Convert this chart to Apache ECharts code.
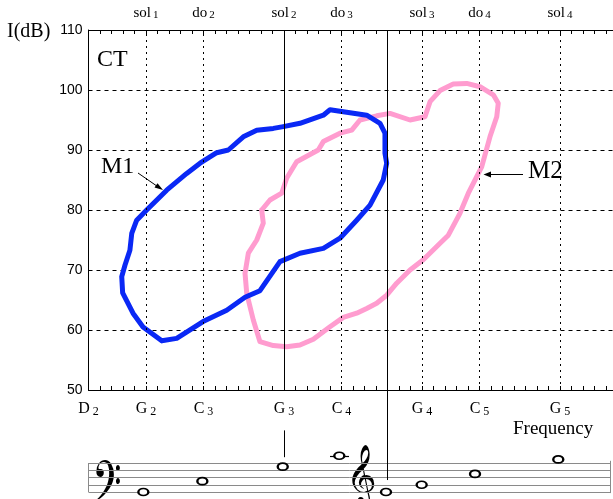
<!DOCTYPE html>
<html><head><meta charset="utf-8">
<script src="https://cdn.jsdelivr.net/npm/echarts@6/dist/echarts.min.js"></script>
<style>html,body{margin:0;padding:0;background:#fff}#c{width:613px;height:499px}</style>
</head><body><div id="c"></div><script>
// Pitch axis in semitones (MIDI numbers): D2 = 38 ... C6 = 84
const pitchTicks   = [38, 43, 48, 55, 60, 67, 72, 79];
const noteLetters  = ['D', 'G', 'C', 'G', 'C', 'G', 'C', 'G'];
const noteOctaves  = ['2', '2', '3', '3', '4', '4', '5', '5'];
const solfegeTicks = [43, 48, 55, 60, 67, 72, 79];
const solfegeNames = ['sol', 'do', 'sol', 'do', 'sol', 'do', 'sol'];
const solfegeNums  = ['1', '2', '2', '3', '3', '4', '4'];
const dottedPitches = [43, 48, 60, 67, 72, 79];
const solidPitches  = [55, 64];
const dbTicks = [50, 60, 70, 80, 90, 100, 110];

// M1 contour (pitch, dB)
const m1Pitch = [44.37,45.67,47.96,50.02,51.61,52.91,54.65,56.39,58.42,59.87,61.32,62.48,63.63,63.93,63.78,63.78,63.35,62.19,60.74,59.0,58.42,56.39,54.94,54.07,52.63,51.46,50.16,49.15,47.7,46.54,44.8,43.06,42.19,41.76,41.6,41.17,40.89,40.97,41.87,42.74,44.37];
const m1Level = [58.2,58.6,61.4,63.3,65.45,66.55,71.4,72.8,73.6,75.3,78.3,80.8,85,87.8,89.45,92.8,94.45,95.8,96.2,96.7,95.8,94.45,93.9,93.6,93.3,92.2,90,89.55,87.8,86.1,83.3,80,78.3,76.1,73.3,70.8,68.9,66.2,62.8,60.5,58.2];

// M2 contour (pitch, dB)
const m2Pitch = [53.06,53.78,54.8,55.23,56.1,57.98,58.42,59.87,60.89,61.61,63.06,64.22,65.96,67.26,67.7,68.57,69.72,70.89,72.04,73.2,73.63,73.5,72.91,72.19,71.76,71.03,70.3,69.29,68.57,67.11,65.96,64.8,63.93,63.06,62.19,61.32,60.16,59.0,57.55,56.39,55.23,54.07,52.91,52.33,51.76,51.61,51.9,52.63,53.2,53.06];
const m2Level = [80,81.67,82.8,85.3,88.05,90,91.4,92.8,93.3,95,95.7,96.1,95,95.55,98.05,99.9,101,101.1,100.55,99.2,97.8,95.55,92.2,87.2,85.55,82.8,79.45,75.8,74.45,71.7,70,67.8,65.8,64.45,63.6,62.8,62.1,60.55,58.45,57.5,57.2,57.4,58.05,61.67,66.1,69.45,72.8,75,77.8,80];

// Staff notes: horizontal pitch position, vertical staff step (0 = bottom line)
const staffNotePitch = [42.77, 47.9, 54.89, 59.81, 63.87, 66.97, 71.61, 78.85];
const staffNoteStep  = [0, 3, 7, 10, 0, 2, 5, 9];
const staffLineSteps = [0, 2, 4, 6, 8];

const serif = 'Liberation Serif';
const sans = 'Liberation Sans';

const chart = echarts.init(document.getElementById('c'), null, {renderer: 'canvas'});

const zip = (a, b) => a.map((v, i) => [v, b[i]]);

function bottomLabel(v) {
  const i = pitchTicks.indexOf(Math.round(v));
  if (i < 0 || Math.abs(v - pitchTicks[i]) > 0.01) return '';
  return '{a|' + noteLetters[i] + '}{b|' + noteOctaves[i] + '}';
}
function topLabel(v) {
  const i = solfegeTicks.indexOf(Math.round(v));
  if (i < 0 || Math.abs(v - solfegeTicks[i]) > 0.01) return '';
  return '{a|' + solfegeNames[i] + '}{b|' + solfegeNums[i] + '}';
}

const guideLines = [];
dottedPitches.forEach(p => guideLines.push({xAxis: p, lineStyle: {type: [2, 4], color: '#000', width: 1}}));
solidPitches.forEach(p => guideLines.push({xAxis: p, lineStyle: {type: 'solid', color: '#000', width: 1}}));

const staffSegs = [];
const staffLeft = 38, staffRight = 83.35;
staffLineSteps.forEach(s => staffSegs.push([{coord: [staffLeft, s]}, {coord: [staffRight, s]}]));
staffSegs.push([{coord: [staffLeft, 0]}, {coord: [staffLeft, 8]}]);
staffSegs.push([{coord: [staffRight, -0.3]}, {coord: [staffRight, 8.6]}]);
// ledger line for middle C
staffSegs.push([{coord: [59.0, 10], lineStyle: {color: '#000', width: 1.2}}, {coord: [60.65, 10]}]);
// pointer lines from G3 and E4
staffSegs.push([{coord: [55, 9.6], lineStyle: {color: '#000', width: 1}}, {coord: [55, 17.0]}]);
staffSegs.push([{coord: [64, 3.3], lineStyle: {color: '#000', width: 1}}, {coord: [64, 28]}]);

const option = {
  animation: false,
  backgroundColor: '#fff',
  grid: [
    {left: 88.5, right: -4.5, top: 30, height: 360, containLabel: false, outerBoundsMode: 'none'},
    {left: 88.5, right: -4.5, top: 390.5, height: 108.75, containLabel: false, outerBoundsMode: 'none'}
  ],
  xAxis: [
    {
      gridIndex: 0, type: 'value', position: 'bottom', min: 38, max: 84, interval: 1,
      axisLine: {lineStyle: {color: '#000', width: 1}},
      axisTick: {inside: true, length: 4, lineStyle: {color: '#000'}},
      axisLabel: {
        interval: 0, margin: 10, formatter: bottomLabel, color: '#000', hideOverlap: false,
        rich: {
          a: {fontFamily: serif, fontSize: 16, color: '#000'},
          b: {fontFamily: serif, fontSize: 12, color: '#000', padding: [6, 0, 0, 3]}
        }
      },
      splitLine: {show: false}
    },
    {
      gridIndex: 0, type: 'value', position: 'top', min: 38, max: 84, interval: 1,
      axisLine: {lineStyle: {color: '#000', width: 1}},
      axisTick: {inside: true, length: 4, lineStyle: {color: '#000'}},
      axisLabel: {
        interval: 0, margin: 9, formatter: topLabel, color: '#000', hideOverlap: false,
        rich: {
          a: {fontFamily: serif, fontSize: 15, color: '#000'},
          b: {fontFamily: serif, fontSize: 11, color: '#000', padding: [3, 0, 0, 2]}
        }
      },
      splitLine: {show: false}
    },
    {gridIndex: 1, type: 'value', min: 38, max: 84, show: false}
  ],
  yAxis: [
    {
      gridIndex: 0, type: 'value', min: 50, max: 110, interval: 10,
      axisLine: {show: true, lineStyle: {color: '#000', width: 1}},
      axisTick: {show: false},
      axisLabel: {fontFamily: sans, fontSize: 14, color: '#000', margin: 6},
      splitLine: {show: true, lineStyle: {type: [4, 4], color: '#000', width: 1}}
    },
    {gridIndex: 1, type: 'value', min: -2, max: 28, show: false}
  ],
  series: [
    {
      name: 'guides', type: 'scatter', xAxisIndex: 0, yAxisIndex: 0, z: 1,
      data: [[38, 50]], symbolSize: 0, silent: true,
      markLine: {silent: true, symbol: 'none', label: {show: false}, animation: false, data: guideLines}
    },
    {
      name: 'M2', type: 'line', xAxisIndex: 0, yAxisIndex: 0, z: 3,
      data: zip(m2Pitch, m2Level), showSymbol: false, symbol: 'none',
      lineStyle: {color: '#ff9ccf', width: 5, join: 'round', cap: 'round'}
    },
    {
      name: 'M1', type: 'line', xAxisIndex: 0, yAxisIndex: 0, z: 4,
      data: zip(m1Pitch, m1Level), showSymbol: false, symbol: 'none',
      lineStyle: {color: '#0a28f5', width: 5, join: 'round', cap: 'round'}
    },
    {
      name: 'staff', type: 'scatter', xAxisIndex: 2, yAxisIndex: 1, z: 5,
      data: zip(staffNotePitch, staffNoteStep),
      symbol: 'circle', symbolSize: [10, 7],
      itemStyle: {color: '#fff', borderColor: '#000', borderWidth: 2, opacity: 1},
      markLine: {
        silent: true, symbol: 'none', label: {show: false}, animation: false,
        lineStyle: {color: '#8a8a8a', width: 1, type: 'solid'},
        data: staffSegs
      }
    }
  ],
  graphic: [
    {type: 'text', left: 7, top: 22, style: {text: 'I(dB)', font: '20px "Liberation Serif"', fill: '#000'}},
    {type: 'text', left: 97, top: 48, style: {text: 'CT', font: '24px "Liberation Serif"', fill: '#000'}},
    {type: 'text', left: 101, top: 155, style: {text: 'M1', font: '24px "Liberation Serif"', fill: '#000'}},
    {type: 'text', left: 528, top: 159, style: {text: 'M2', font: '25px "Liberation Serif"', fill: '#000'}},
    {type: 'text', left: 513, top: 420, style: {text: 'Frequency', font: '19px "Liberation Serif"', fill: '#000'}},
    {type: 'line', shape: {x1: 138, y1: 173, x2: 159, y2: 187.5}, style: {stroke: '#000', lineWidth: 1}},
    {type: 'polygon', shape: {points: [[163, 190], [154.5, 187.5], [157.5, 183.2]]}, style: {fill: '#000'}},
    {type: 'line', shape: {x1: 523, y1: 174.5, x2: 488, y2: 174.5}, style: {stroke: '#000', lineWidth: 1}},
    {type: 'polygon', shape: {points: [[483.5, 174.5], [491, 171.5], [491, 177.5]]}, style: {fill: '#000'}},
    {type: 'text', x: 92, y: 461, scaleY: 1.5, style: {text: '\u{1D122}', font: '46px "DejaVu Sans"', fill: '#000', align: 'left', verticalAlign: 'top'}},
    {type: 'text', left: 346, top: 452, style: {text: '\u{1D11E}', font: '52px "DejaVu Sans"', fill: '#000'}}
  ]
};
chart.setOption(option);
</script></body></html>
